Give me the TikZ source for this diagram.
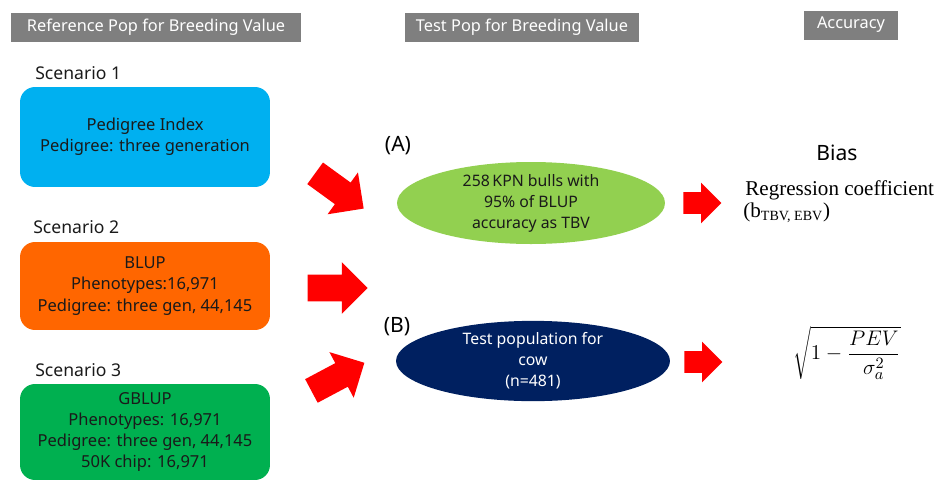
\documentclass[tikz,border=0pt]{standalone}
\usepackage[no-math]{fontspec}
\setmainfont{Noto Sans}
\newfontfamily\timesfont{Liberation Serif}
\usepackage{xcolor}
\definecolor{hdrgray}{HTML}{7F7F7F}
\definecolor{scblue}{HTML}{00B0F0}
\definecolor{scorange}{HTML}{FF6600}
\definecolor{scgreen}{HTML}{00B050}
\definecolor{lightgreen}{HTML}{92D050}
\definecolor{navy}{HTML}{002060}
\definecolor{textdark}{HTML}{1A1A1A}
\usepackage{tikz}
\usetikzlibrary{shapes.geometric,shapes.arrows,positioning}

\begin{document}
\begin{tikzpicture}[x=0.02cm, y=-0.02cm,
    header/.style={rectangle, fill=hdrgray, text=white, minimum height=0.58cm, inner sep=0pt, font=\fontsize{9.3}{11}\selectfont},
    scen/.style={font=\fontsize{10}{12}\selectfont, text=textdark, anchor=west, inner sep=0pt},
    method/.style={rectangle, rounded corners=0.3cm, minimum width=5cm, text=textdark, align=center, font=\fontsize{9.4}{12}\selectfont, inner sep=0pt},
    pop/.style={ellipse, minimum height=1.34cm, inner sep=0pt, align=center, font=\fontsize{9}{12}\selectfont},
    bigarrow/.style={single arrow, fill=red, draw=none, minimum height=1.2cm, inner xsep=0pt, inner ysep=0.26cm, single arrow head extend=0.25cm, single arrow head indent=0pt},
    smallarrow/.style={single arrow, fill=red, draw=none, minimum height=0.76cm, inner xsep=0pt, inner ysep=0.21cm, single arrow head extend=0.19cm, single arrow head indent=0pt},
    tag/.style={font=\fontsize{12}{14}\selectfont, inner sep=0pt}
  ]
    \useasboundingbox (0,0) rectangle (948,481);
    % column headers
    \node[header, minimum width=5.8cm] (hdrref) at (156,27) {Reference Pop for Breeding Value};
    \node[header, minimum width=4.7cm] (hdrtest) at (522,27) {Test Pop for Breeding Value};
    \node[header, minimum width=1.88cm] (hdracc) at (851,25) {Accuracy};
    % scenarios
    \node[scen] (lab1) at (35,73) {Scenario 1};
    \node[scen] (lab2) at (33,227) {Scenario 2};
    \node[scen] (lab3) at (35,370) {Scenario 3};
    \node[method, fill=scblue, minimum height=2cm] (sc1) at (145,137) {Pedigree Index\\Pedigree: three generation};
    \node[method, fill=scorange, minimum height=1.76cm] (sc2) at (145,286) {BLUP\\Phenotypes:16,971\\Pedigree: three gen, 44,145};
    \node[method, fill=scgreen, minimum height=1.92cm] (sc3) at (145,432) {GBLUP\\Phenotypes: 16,971\\Pedigree: three gen, 44,145\\50K chip: 16,971};
    \node[bigarrow, rotate=-36] (arr1) at (334,187) {};
    \node[bigarrow] (arr2) at (331,288) {};
    \node[bigarrow, rotate=28] (arr3) at (332,380) {};
    % test populations
    \node[tag] (tagA) at (398,146) {(A)};
    \node[tag] (tagB) at (397,327) {(B)};
    \node[pop, fill=lightgreen, minimum width=5.36cm, text=textdark] (popA) at (531,203) {258\,KPN bulls with\\95\% of BLUP\\accuracy as TBV};
    \node[pop, fill=navy, minimum width=5.48cm, text=white] (popB) at (533,361) {Test population for\\cow\\(n=481)};
    \node[smallarrow] (arrA) at (697,203) {};
    \node[smallarrow] (arrB) at (698,362) {};
    % accuracy measures
    \node[font=\fontsize{12}{14}\selectfont, inner sep=0pt] (bias) at (837,153) {Bias};
    \node[anchor=west, inner sep=0pt, font=\timesfont\fontsize{12}{14}\selectfont] (regr) at (745,190) {Regression coefficient};
    \node[anchor=west, inner sep=0pt, font=\timesfont\fontsize{12}{14}\selectfont] (bcoef) at (743,213) {(b\textsubscript{TBV, EBV})};
    \node[inner sep=0pt, font=\fontsize{13}{15}\selectfont] (formula) at (847,353) {$\displaystyle\sqrt{1-\frac{PEV}{\sigma_a^2}}$};
\end{tikzpicture}
\end{document}
